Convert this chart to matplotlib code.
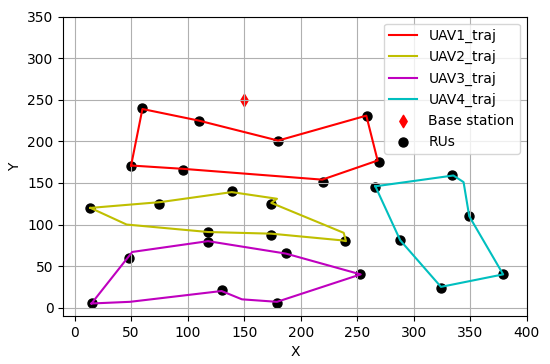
import numpy as np
import matplotlib
matplotlib.use("Agg")
import matplotlib.pyplot as plt

# UAV trajectories (closed loops)
uav1_x = [50, 60, 110, 180, 258, 268, 219, 96, 50]
uav1_y = [171, 239, 225, 201, 231, 177, 154, 167, 171]
uav2_x = [14, 76, 139, 179, 174, 238, 240, 236, 174, 118, 46, 14]
uav2_y = [120, 127, 139, 131, 126, 90, 80, 81, 89, 91, 100, 120]
uav3_x = [15, 51, 118, 187, 253, 179, 148, 130, 49, 15]
uav3_y = [5, 67, 80, 65, 40, 7, 10, 20, 7, 5]
uav4_x = [266, 335, 344, 349, 379, 324, 288, 266]
uav4_y = [146, 159, 151, 110, 40, 25, 81, 146]

# base station and RUs
bs_x, bs_y = [150], [250]
ru_x = [60, 110, 180, 259, 269, 220, 96, 50,
        14, 75, 139, 174, 239, 174, 118, 118, 187, 48, 15, 130, 179, 252,
        266, 334, 349, 379, 324, 288]
ru_y = [240, 225, 200, 231, 175, 151, 166, 171,
        120, 125, 140, 125, 80, 88, 91, 79, 66, 60, 5, 21, 6, 40,
        145, 160, 110, 40, 24, 81]

fig, ax = plt.subplots(figsize=[5.5, 3.64], dpi=100)
fig.subplots_adjust(left=0.115, right=0.958, top=0.954, bottom=0.132)

ax.plot(uav1_x, uav1_y, color='r', label='UAV1_traj')
ax.plot(uav2_x, uav2_y, color='y', label='UAV2_traj')
ax.plot(uav3_x, uav3_y, color='m', label='UAV3_traj')
ax.plot(uav4_x, uav4_y, color='c', label='UAV4_traj')
ax.scatter(bs_x, bs_y, marker='d', color='r', s=40, label='Base station')
ax.scatter(ru_x, ru_y, marker='o', color='k', s=42, label='RUs')

ax.set_xlim([-10, 400])
ax.set_ylim([-10, 350])
ax.set_xticks(np.arange(0, 401, 50))
ax.set_yticks(np.arange(0, 351, 50))
ax.set_xlabel('X')
ax.set_ylabel('Y')
ax.grid(True)
ax.legend(loc='upper right')
fig.savefig('out.png', dpi=100)
